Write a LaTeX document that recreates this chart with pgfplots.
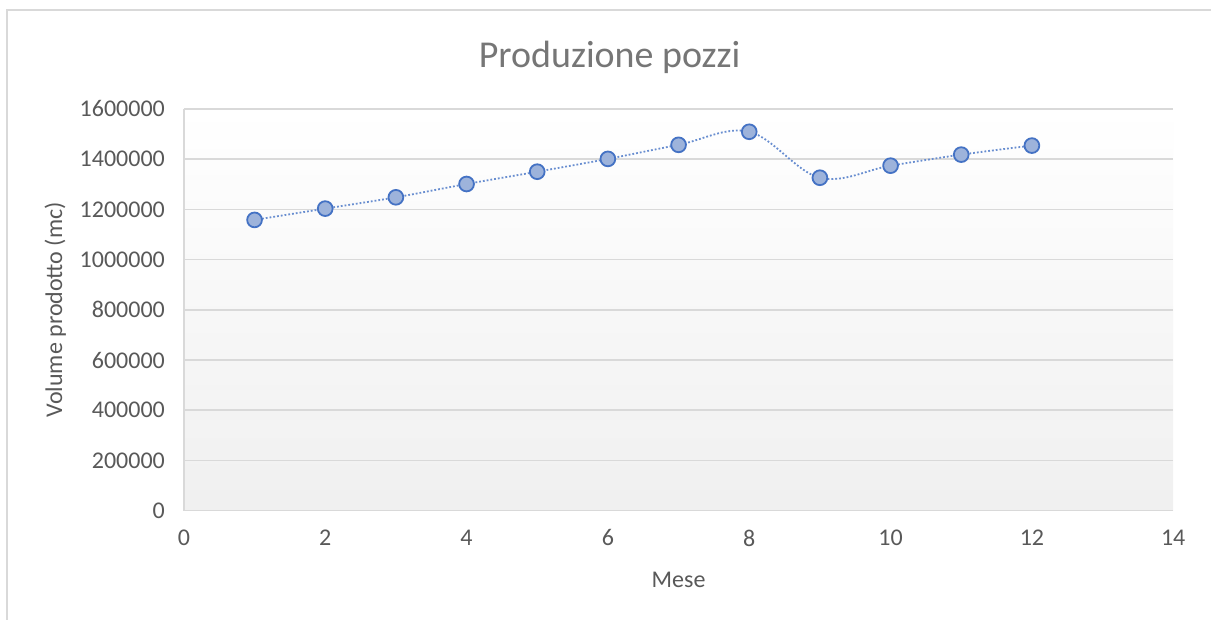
\documentclass[border=0pt]{standalone}
\usepackage{pgfplots}
\pgfplotsset{compat=1.18}
\usepackage{fontspec}
\setmainfont{Carlito}
\definecolor{txt}{HTML}{595959}
\definecolor{ttl}{HTML}{767676}
\definecolor{gridc}{HTML}{D9D9D9}
\definecolor{mk}{HTML}{4472C4}
\definecolor{mkfill}{HTML}{9DB3DB}
\begin{document}
\begin{tikzpicture}[x=1pt,y=1pt]
\fill[white] (0,0) rectangle (606,310);
\draw[gridc,line width=0.8pt] (3.5,0) -- (3.5,305) -- (606,305);
\fill[top color=white,bottom color=black!6,draw=none] (92,54.5) rectangle (587,255.5);
\node[font=\fontsize{19}{22}\selectfont,text=ttl] at (305,281.5) {Produzione pozzi};
\begin{axis}[
  at={(92pt,54.5pt)}, anchor=south west,
  scale only axis, width=495pt, height=201pt,
  xmin=0, xmax=14, ymin=0, ymax=1600000,
  xtick={0,2,...,14}, ytick={0,200000,...,1600000},
  scaled y ticks=false,
  yticklabel style={/pgf/number format/fixed,/pgf/number format/1000 sep={}},
  /pgf/number format/assume math mode=true,
  axis x line*=bottom, axis y line*=left,
  axis line style={gridc,line width=0.8pt},
  x axis line style={-}, y axis line style={-},
  tick style={draw=none},
  ymajorgrids=true, xmajorgrids=false, grid style={gridc,line width=0.8pt},
  tick label style={font=\fontsize{12}{14}\selectfont,text=txt},
  yticklabel style={xshift=-6pt},
  xticklabel style={yshift=-6pt},
  xlabel={Mese}, ylabel={Volume prodotto (mc)},
  label style={font=\fontsize{12}{14}\selectfont,text=txt},
  xlabel style={yshift=-6pt},
  ylabel style={yshift=0pt},
  clip=false,
]
\addplot[smooth, tension=0.6, color=mk!80, densely dotted, line width=0.9pt,
  mark=*, mark size=3.7pt, mark options={solid, fill=mkfill, draw=mk, line width=0.9pt}]
coordinates {
(1,1158000) (2,1203000) (3,1248000) (4,1301000) (5,1350000) (6,1401000)
(7,1457000) (8,1509000) (9,1326000) (10,1374000) (11,1418000) (12,1454000)
};
\end{axis}
\end{tikzpicture}
\end{document}
